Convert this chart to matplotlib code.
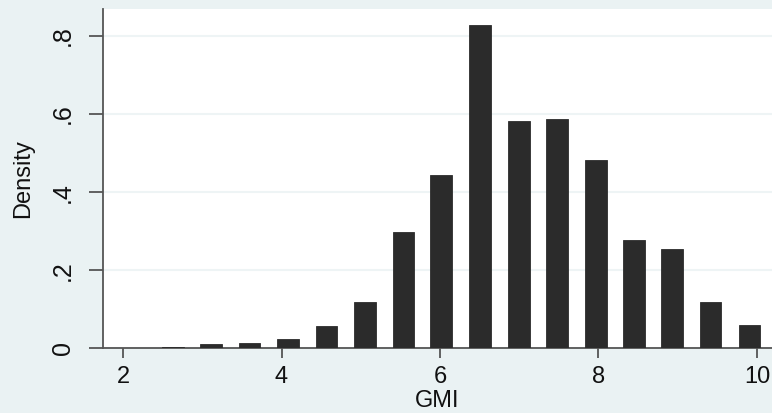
import matplotlib
matplotlib.use("Agg")
import matplotlib.pyplot as plt

# histogram of GMI (bin centres and densities)
bin_centers = [2.627, 3.11, 3.597, 4.078, 4.567, 5.053, 5.54, 6.015,
               6.509, 6.994, 7.475, 7.968, 8.45, 8.93, 9.415, 9.905]
density = [0.004, 0.010, 0.014, 0.023, 0.057, 0.118, 0.297, 0.443,
           0.829, 0.582, 0.588, 0.481, 0.276, 0.255, 0.119, 0.060]

x_ticks = [2, 4, 6, 8, 10]
x_ticklabels = ['2', '4', '6', '8', '10']
y_ticks = [0, 0.2, 0.4, 0.6, 0.8]
y_ticklabels = ['0', '.2', '.4', '.6', '.8']

bg = '#EAF2F3'
bar_color = '#2B2B2B'
axis_color = '#555555'

plt.rcParams['font.family'] = ['Liberation Sans', 'DejaVu Sans']

fig = plt.figure(figsize=(7.72, 4.13), dpi=100, facecolor=bg)
ax = fig.add_axes([0.1334, 0.1567, 0.8666, 0.8208])
ax.set_facecolor('white')

bin_width = 0.4852
ax.bar(bin_centers, density, width=bin_width * 0.566, color=bar_color,
       edgecolor=bar_color, linewidth=0.6, zorder=3)

ax.set_xlim(1.747, 10.19)
ax.set_ylim(0, 0.868)

ax.set_yticks(y_ticks)
ax.set_yticklabels(y_ticklabels, rotation=90, va='center')
ax.set_xticks(x_ticks)
ax.set_xticklabels(x_ticklabels)

ax.grid(True, axis='y', color='#EEF4F5', linewidth=1.5, zorder=0)

for side in ['top', 'right']:
    ax.spines[side].set_visible(False)
for side in ['left', 'bottom']:
    ax.spines[side].set_color(axis_color)
    ax.spines[side].set_linewidth(1.3)

ax.tick_params(axis='x', length=7.5, width=1.3, color=axis_color,
               labelsize=17, pad=5, labelcolor='#111111')
ax.tick_params(axis='y', length=10, width=1.3, color=axis_color,
               labelsize=18, pad=10, labelcolor='#111111')

ax.set_xlabel('GMI', fontsize=17, labelpad=2, color='#111111')
ax.set_ylabel('Density', fontsize=17, labelpad=12, color='#111111')

fig.savefig('out.png', dpi=100, facecolor=bg)
